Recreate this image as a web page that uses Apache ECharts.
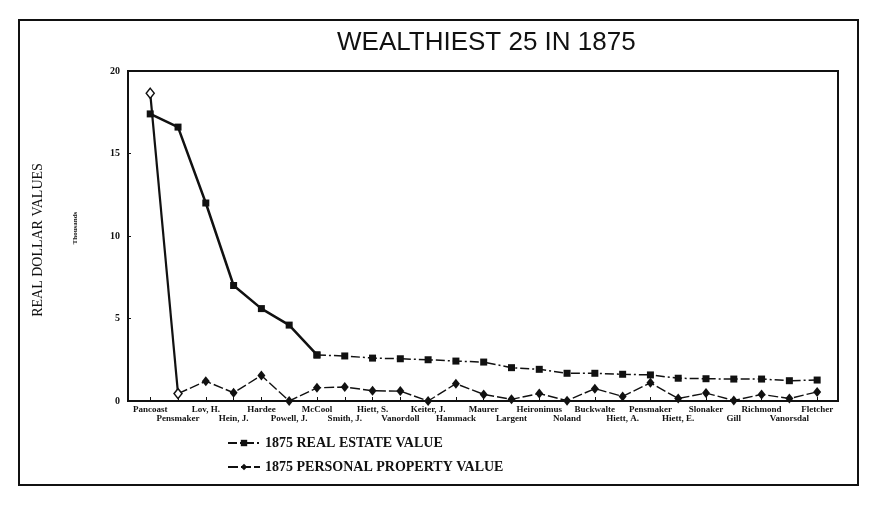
<!DOCTYPE html>
<html>
<head>
<meta charset="utf-8">
<script src="https://cdn.jsdelivr.net/npm/echarts@6/dist/echarts.min.js"></script>
<style>
  html, body { margin: 0; padding: 0; background: #fff; }
  #chart { width: 875px; height: 509px; }
</style>
</head>
<body>
<div id="chart"></div>
<script>
// names along the bottom, in order
const names = ['Pancoast', 'Pensmaker', 'Lov, H.', 'Hein, J.', 'Hardee', 'Powell, J.', 'McCool',
  'Smith, J.', 'Hiett, S.', 'Vanordoll', 'Keiter, J.', 'Hammack', 'Maurer', 'Largent',
  'Heironimus', 'Noland', 'Buckwalte', 'Hiett, A.', 'Pensmaker', 'Hiett, E.', 'Slonaker',
  'Gill', 'Richmond', 'Vanorsdal', 'Fletcher'];
// thousands of dollars
const realEstate = [17.4, 16.6, 12.0, 7.0, 5.6, 4.6, 2.79, 2.73, 2.6, 2.56, 2.5, 2.42, 2.36,
  2.02, 1.92, 1.68, 1.68, 1.62, 1.58, 1.38, 1.35, 1.33, 1.33, 1.23, 1.27];
const personal = [18.65, 0.45, 1.2, 0.5, 1.55, 0.0, 0.8, 0.85, 0.62, 0.6, 0.0, 1.05, 0.4,
  0.1, 0.45, 0.02, 0.75, 0.28, 1.1, 0.15, 0.48, 0.03, 0.4, 0.15, 0.55];
const yTicks = [0, 5, 10, 15, 20];

const RE = '1875 REAL ESTATE VALUE';
const PP = '1875 PERSONAL PROPERTY VALUE';
const ids = names.map((n, i) => i);
const evens = ids.filter(i => i % 2 === 0);
const odds = ids.filter(i => i % 2 === 1);
const pts = arr => arr.map((v, i) => [i, v]);

const labelFont = { fontFamily: 'Liberation Serif', fontSize: 9, fontWeight: 'bold', color: '#111' };

let chart = echarts.init(document.getElementById('chart'));
chart.setOption({
  backgroundColor: '#fff',
  animation: false,
  title: {
    text: 'WEALTHIEST 25 IN 1875',
    left: 332, top: 25,
    textStyle: { fontFamily: 'Liberation Sans', fontSize: 26, fontWeight: 'normal', color: '#111' }
  },
  graphic: [
    { type: 'rect', shape: { x: 19, y: 20, width: 839, height: 465 },
      style: { fill: 'none', stroke: '#111', lineWidth: 2 } },
    { type: 'text', x: 38, y: 240, rotation: Math.PI / 2,
      style: { text: 'REAL DOLLAR VALUES', fill: '#111', font: '14px "Liberation Serif"',
        align: 'center', verticalAlign: 'middle' } },
    { type: 'text', x: 75, y: 228, rotation: Math.PI / 2,
      style: { text: 'Thousands', fill: '#111', font: 'bold 7px "Liberation Serif"',
        align: 'center', verticalAlign: 'middle' } }
  ],
  legend: {
    orient: 'vertical',
    left: 222, top: 431,
    itemGap: 10,
    itemWidth: 32, itemHeight: 8,
    data: [RE, PP],
    textStyle: { fontFamily: 'Liberation Serif', fontSize: 14, fontWeight: 'bold', color: '#111' }
  },
  grid: { left: 128, right: 37, top: 71, bottom: 108, show: true, borderColor: '#111', borderWidth: 2 },
  xAxis: [
    {
      type: 'value',
      min: -0.8, max: 24.75,
      axisLine: { show: true, onZero: false, lineStyle: { color: '#111', width: 2 } },
      axisTick: { show: true, inside: true, length: 4, customValues: ids, lineStyle: { color: '#111' } },
      axisLabel: Object.assign({
        customValues: evens, showMinLabel: true, showMaxLabel: true, margin: 4,
        formatter: v => names[Math.round(v)]
      }, labelFont),
      splitLine: { show: false }
    },
    {
      type: 'value',
      position: 'bottom',
      min: -0.8, max: 24.75,
      axisLine: { show: false, onZero: false },
      axisTick: { show: false },
      axisLabel: Object.assign({
        customValues: odds, showMinLabel: true, showMaxLabel: true, margin: 13,
        formatter: v => names[Math.round(v)]
      }, labelFont),
      splitLine: { show: false }
    }
  ],
  yAxis: {
    type: 'value',
    min: 0, max: 20, interval: 5,
    axisLine: { show: true, onZero: false, lineStyle: { color: '#111', width: 2 } },
    axisTick: { show: true, inside: true, length: 3, customValues: yTicks, lineStyle: { color: '#111' } },
    axisLabel: { margin: 8, fontFamily: 'Liberation Serif', fontSize: 10, fontWeight: 'bold', color: '#111' },
    splitLine: { show: false }
  },
  series: [
    {
      name: RE, type: 'line',
      data: pts(realEstate).slice(6),
      symbol: 'rect', symbolSize: 7,
      itemStyle: { color: '#111' },
      lineStyle: { color: '#111', width: 1.5, type: [9, 3, 2, 3] }
    },
    {
      name: RE, type: 'line',
      data: pts(realEstate).slice(0, 7),
      symbol: 'rect', symbolSize: 7,
      itemStyle: { color: '#111' },
      lineStyle: { color: '#111', width: 2.5 }
    },
    {
      name: PP, type: 'line',
      data: pts(personal).slice(1),
      symbol: 'diamond', symbolSize: [8, 10],
      itemStyle: { color: '#111' },
      lineStyle: { color: '#111', width: 1.4, type: [10, 3] }
    },
    {
      name: PP, type: 'line',
      data: pts(personal).slice(0, 2),
      symbol: 'diamond', symbolSize: [8, 10],
      itemStyle: { color: '#fff', borderColor: '#111', borderWidth: 1.5 },
      lineStyle: { color: '#111', width: 2.2 }
    }
  ]
});
</script>
</body>
</html>
